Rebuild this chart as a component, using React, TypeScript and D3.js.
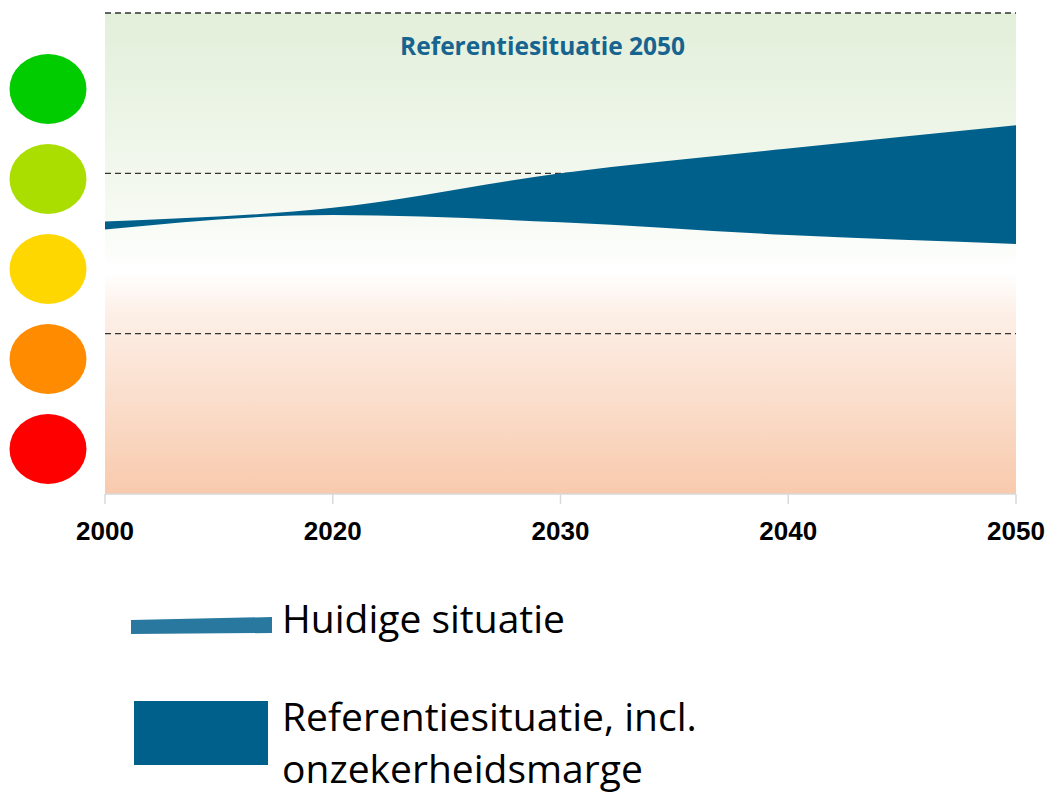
import React from 'react';
import * as d3 from 'd3';

const years = ['2000', '2020', '2030', '2040', '2050'];
const upper = [1.7, 1.785, 2.0, 2.155, 2.3];
const lower = [1.65, 1.74, 1.695, 1.615, 1.56];
const gridLevels = [1, 2, 3];
const scoreColors = ['#00cc00', '#aade00', '#ffd700', '#ff8c00', '#ff0000'];
const title = 'Referentiesituatie 2050';
const legendLabels = ['Huidige situatie', 'Referentiesituatie, incl.', 'onzekerheidsmarge'];

const W = 1050;
const H = 792;
const plot = { left: 105, right: 1016, top: 13, bottom: 494 };

export default function App() {
  const x = d3.scalePoint<string>().domain(years).range([plot.left, plot.right]);
  const y = d3.scaleLinear().domain([0, 3]).range([plot.bottom, plot.top]);

  const rows = years.map((yr, i) => ({ yr, hi: upper[i], lo: lower[i] }));
  const area = d3
    .area<{ yr: string; hi: number; lo: number }>()
    .x((d) => x(d.yr) as number)
    .y0((d) => y(d.lo))
    .y1((d) => y(d.hi))
    .curve(d3.curveMonotoneX);

  const circleY = d3
    .scalePoint<number>()
    .domain(d3.range(scoreColors.length))
    .range([89, 449]);

  const sans = "'Open Sans', 'Liberation Sans', sans-serif";
  const axisFont = "'Liberation Sans', Arial, sans-serif";

  return (
    <svg
      width={W}
      height={H}
      style={{ position: 'absolute', left: 0, top: 0, display: 'block' }}
    >
      <defs>
        <linearGradient id="bg" x1="0" y1="0" x2="0" y2="1">
          <stop offset="0" stopColor="#e2efd9" />
          <stop offset="0.42" stopColor="#f6faf3" />
          <stop offset="0.54" stopColor="#ffffff" />
          <stop offset="0.62" stopColor="#fdf0e8" />
          <stop offset="1" stopColor="#f8caad" />
        </linearGradient>
      </defs>
      <rect width={W} height={H} fill="#ffffff" />

      {/* score circles */}
      {scoreColors.map((c, i) => (
        <ellipse key={c} cx={48} cy={circleY(i)} rx={38.5} ry={35} fill={c} />
      ))}

      <rect
        x={plot.left}
        y={plot.top}
        width={plot.right - plot.left}
        height={plot.bottom - plot.top}
        fill="url(#bg)"
      />

      {gridLevels.map((v) => (
        <line
          key={v}
          x1={plot.left}
          x2={plot.right}
          y1={y(v)}
          y2={y(v)}
          stroke="#333"
          strokeWidth={1.3}
          strokeDasharray="6 4"
        />
      ))}

      <path d={area(rows) || ''} fill="#00608c" />

      {/* x axis */}
      <line x1={plot.left} x2={plot.right} y1={y(0)} y2={y(0)} stroke="#d9d9d9" strokeWidth={1.5} />
      {years.map((yr) => (
        <g key={yr}>
          <line x1={x(yr)} x2={x(yr)} y1={y(0)} y2={y(0) + 10} stroke="#d9d9d9" strokeWidth={1.5} />
          <text
            x={x(yr)}
            y={540}
            textAnchor="middle"
            fontFamily={axisFont}
            fontWeight="bold"
            fontSize={26}
            fill="#000"
          >
            {yr}
          </text>
        </g>
      ))}

      <text x={400} y={55} fontFamily={sans} fontWeight="bold" fontSize={24.5} fill="#16648f">
        {title}
      </text>

      {/* legend */}
      <path d="M131,620 L272,617 L272,633 L131,634 Z" fill="#2878a0" />
      <text x={282} y={633} fontFamily={sans} fontSize={39} fill="#000">
        {legendLabels[0]}
      </text>
      <rect x={134} y={701} width={134} height={64} fill="#00608c" />
      <text x={282} y={731} fontFamily={sans} fontSize={39} fill="#000">
        {legendLabels[1]}
      </text>
      <text x={282} y={783} fontFamily={sans} fontSize={39} fill="#000">
        {legendLabels[2]}
      </text>
    </svg>
  );
}
